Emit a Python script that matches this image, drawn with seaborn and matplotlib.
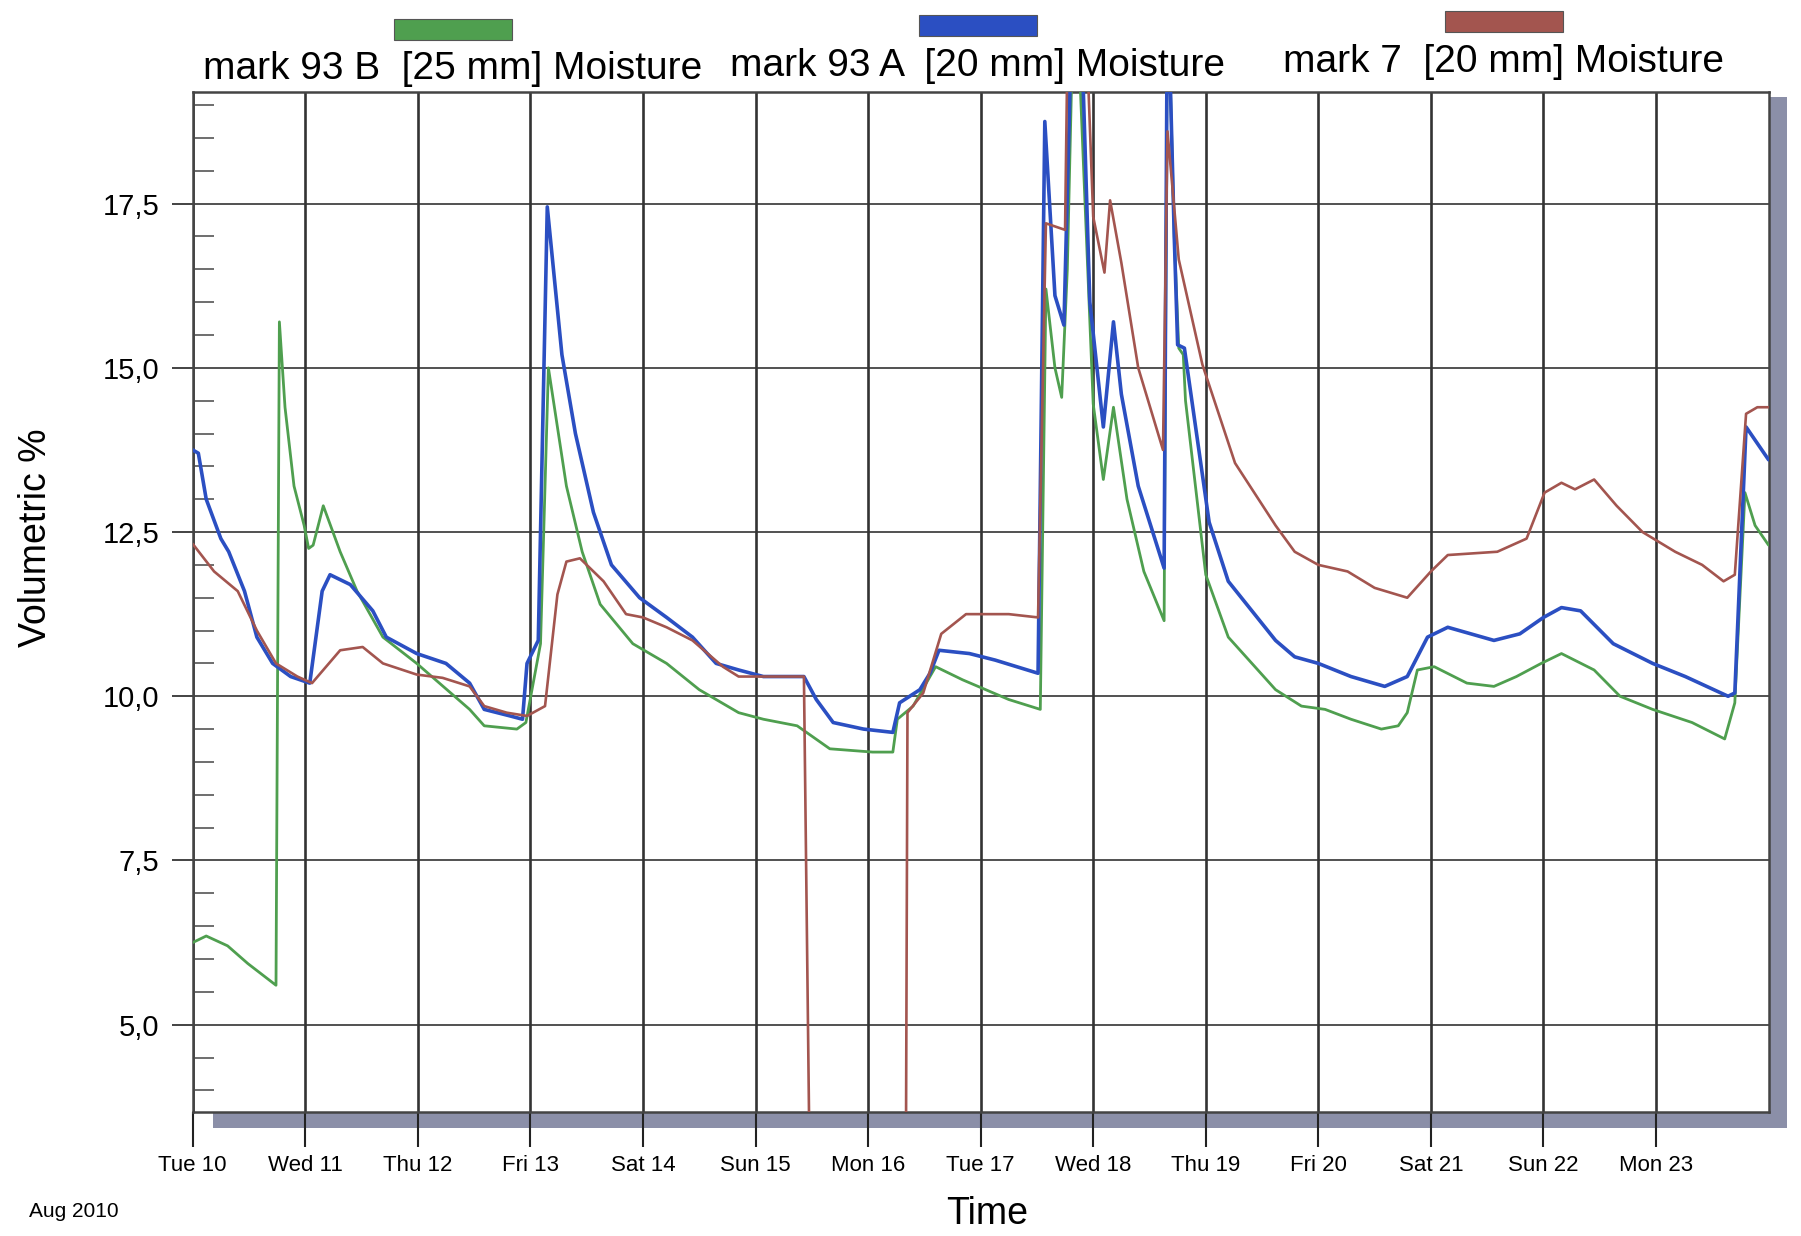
import matplotlib
matplotlib.use("Agg")
import numpy as np
import pandas as pd
import matplotlib.pyplot as plt
import seaborn as sns
from matplotlib.patches import Rectangle
from matplotlib.ticker import MultipleLocator, FuncFormatter

# days since Tue 10 Aug 2010 00:00; values > top of axis are clipped spikes
green_days = [0.0, 0.12, 0.31, 0.49, 0.74, 0.77, 0.82, 0.9, 0.99, 1.03, 1.07, 1.16, 1.31, 1.46,
              1.69, 1.99, 2.46, 2.59, 2.88, 2.96, 3.09, 3.16, 3.32, 3.46, 3.62, 3.91, 4.21, 4.5,
              4.85, 5.07, 5.37, 5.66, 6.04, 6.22, 6.26, 6.4, 6.6, 6.84, 7.25, 7.53, 7.58, 7.66,
              7.72, 7.77, 7.83, 7.88, 8.0, 8.09, 8.18, 8.3, 8.45, 8.63, 8.66, 8.72, 8.76, 8.8,
              8.82, 9.0, 9.2, 9.62, 9.85, 10.06, 10.29, 10.56, 10.71, 10.79, 10.88, 11.03, 11.32,
              11.56, 11.76, 11.98, 12.16, 12.45, 12.68, 12.97, 13.32, 13.61, 13.7, 13.79, 13.88, 14.0]
green_vals = [6.25, 6.35, 6.2, 5.93, 5.6, 15.7, 14.4, 13.2, 12.6, 12.25, 12.3, 12.9, 12.2, 11.6,
              10.9, 10.5, 9.8, 9.55, 9.5, 9.6, 10.8, 15.0, 13.2, 12.2, 11.4, 10.8, 10.5, 10.1,
              9.75, 9.65, 9.55, 9.2, 9.15, 9.15, 9.65, 9.85, 10.45, 10.25, 9.95, 9.8, 16.2, 15.0,
              14.55, 16.5, 21.0, 19.5, 14.45, 13.3, 14.4, 13.0, 11.9, 11.15, 21.0, 17.0, 15.3, 15.2,
              14.5, 11.85, 10.9, 10.1, 9.85, 9.8, 9.65, 9.5, 9.55, 9.75, 10.4, 10.45, 10.2,
              10.15, 10.3, 10.5, 10.65, 10.4, 10.0, 9.8, 9.6, 9.35, 9.9, 13.1, 12.6, 12.3]

blue_days = [0.0, 0.05, 0.12, 0.25, 0.32, 0.46, 0.57, 0.71, 0.87, 1.04, 1.15, 1.22, 1.4, 1.6,
             1.72, 1.99, 2.25, 2.46, 2.59, 2.82, 2.93, 2.97, 3.07, 3.15, 3.28, 3.4, 3.56, 3.72,
             3.97, 4.21, 4.44, 4.65, 4.85, 5.07, 5.43, 5.54, 5.69, 5.96, 6.22, 6.28, 6.46, 6.55,
             6.63, 6.9, 7.13, 7.51, 7.57, 7.66, 7.74, 7.82, 7.88, 7.97, 8.09, 8.18, 8.25, 8.4,
             8.63, 8.66, 8.72, 8.75, 8.81, 9.03, 9.2, 9.62, 9.79, 10.0, 10.29, 10.59, 10.79,
             10.97, 11.15, 11.56, 11.79, 12.0, 12.16, 12.33, 12.62, 12.97, 13.26, 13.64, 13.7,
             13.8, 13.88, 14.0]
blue_vals = [13.75, 13.7, 13.0, 12.4, 12.2, 11.6, 10.9, 10.5, 10.3, 10.2, 11.6, 11.85, 11.7, 11.3,
             10.9, 10.65, 10.5, 10.2, 9.8, 9.7, 9.65, 10.5, 10.85, 17.45, 15.2, 14.0, 12.8, 12.0,
             11.5, 11.2, 10.9, 10.5, 10.4, 10.3, 10.3, 9.95, 9.6, 9.5, 9.45, 9.9, 10.1, 10.35,
             10.7, 10.65, 10.55, 10.35, 18.75, 16.1, 15.65, 21.0, 21.0, 16.0, 14.1, 15.7, 14.6, 13.2,
             11.95, 21.0, 17.0, 15.35, 15.3, 12.65, 11.75, 10.85, 10.6, 10.5, 10.3, 10.15, 10.3,
             10.9, 11.05, 10.85, 10.95, 11.2, 11.35, 11.3, 10.8, 10.5, 10.3, 10.0, 10.05,
             14.1, 13.9, 13.6]

red_days = [0.0, 0.19, 0.4, 0.57, 0.74, 0.93, 1.06, 1.16, 1.31, 1.51, 1.69, 1.99, 2.22, 2.46,
            2.59, 2.79, 2.97, 3.13, 3.24, 3.32, 3.44, 3.65, 3.85, 4.0, 4.21, 4.44, 4.71, 4.85,
            5.07, 5.43, 5.5, 6.33, 6.35, 6.49, 6.65, 6.87, 7.25, 7.51, 7.58, 7.75, 7.78, 7.92,
            8.0, 8.1, 8.15, 8.25, 8.4, 8.62, 8.66, 8.76, 8.97, 9.26, 9.62, 9.79, 10.0, 10.26,
            10.5, 10.79, 11.0, 11.15, 11.59, 11.85, 12.01, 12.16, 12.28, 12.45, 12.65, 12.88,
            13.17, 13.41, 13.6, 13.7, 13.8, 13.9, 14.0]
red_vals = [12.32, 11.9, 11.6, 11.0, 10.5, 10.3, 10.2, 10.4, 10.7, 10.75, 10.5, 10.33, 10.28, 10.15,
            9.85, 9.75, 9.7, 9.85, 11.55, 12.05, 12.1, 11.75, 11.25, 11.2, 11.05, 10.85, 10.45, 10.3,
            10.3, 10.3, 0.0, 0.0, 9.75, 10.05, 10.95, 11.25, 11.25, 11.2, 17.2, 17.1, 21.0, 21.0,
            17.3, 16.45, 17.55, 16.6, 15.0, 13.75, 18.6, 16.65, 15.05, 13.55, 12.6, 12.2, 12.0, 11.9,
            11.65, 11.5, 11.9, 12.15, 12.2, 12.4, 13.1, 13.25, 13.15, 13.3, 12.9, 12.5,
            12.2, 12.0, 11.75, 11.85, 14.3, 14.4, 14.4]

series_names = ["mark 93 B  [25 mm] Moisture", "mark 93 A  [20 mm] Moisture",
                "mark 7  [20 mm] Moisture"]
series_colors = ["#4f9f4f", "#2b4fc2", "#a3554f"]
day_labels = ["Tue 10", "Wed 11", "Thu 12", "Fri 13", "Sat 14", "Sun 15", "Mon 16",
              "Tue 17", "Wed 18", "Thu 19", "Fri 20", "Sat 21", "Sun 22", "Mon 23"]

sns.set_style("white")
plt.rcParams["font.family"] = ["Liberation Sans", "DejaVu Sans"]
plt.rcParams["text.color"] = "black"
plt.rcParams["xtick.color"] = "#222222"
plt.rcParams["ytick.color"] = "#222222"

fig = plt.figure(figsize=(18.01, 12.36), dpi=100)
ax = fig.add_axes([0.107, 0.1003, 0.875, 0.8253])

data = [(green_days, green_vals), (blue_days, blue_vals), (red_days, red_vals)]
widths = [2.0, 2.6, 1.9]
for (d, v), name, col, lw in zip(data, series_names, series_colors, widths):
    df = pd.DataFrame({"day": d, "value": v})
    sns.lineplot(data=df, x="day", y="value", color=col, linewidth=lw, ax=ax, zorder=3)

ax.set_xlim(0, 14)
ax.set_ylim(3.67, 19.2)

ax.set_xticks(np.arange(len(day_labels)))
ax.set_xticklabels(day_labels, fontsize=16, color="black")
ax.yaxis.set_major_locator(MultipleLocator(2.5))
ax.yaxis.set_minor_locator(MultipleLocator(0.5))
ax.yaxis.set_major_formatter(FuncFormatter(lambda v, p: f"{v:.1f}".replace(".", ",") if v >= 5 else ""))
ax.tick_params(axis="x", bottom=True, direction="out", length=25, width=1.5, pad=6)
ax.tick_params(axis="y", which="major", left=True, direction="out", length=15, width=1.2,
               labelsize=21, labelcolor="black", pad=9)
ax.tick_params(axis="y", which="minor", left=True, direction="in", length=15, width=1.2,
               color="#555555")

ax.xaxis.grid(True, color="#333333", linewidth=1.9)
ax.yaxis.grid(True, color="#333333", linewidth=1.2)
for side in ["left", "top", "right", "bottom"]:
    ax.spines[side].set_visible(True)
    ax.spines[side].set_color("#444444")
    ax.spines[side].set_linewidth(1.8)

ax.set_xlabel("")
ax.set_ylabel("")
fig.text(0.02, 0.565, "Volumetric %", rotation=90, fontsize=27, ha="center", va="center")
fig.text(0.548, 0.018, "Time", fontsize=27, ha="center", va="center")
fig.text(0.016, 0.02, "Aug 2010", fontsize=15, ha="left", va="center")

# grey drop shadow under and right of the plot
shadow = "#8b8fa8"
fig.patches.append(Rectangle((0.118, 0.0874), 0.874, 0.0129, transform=fig.transFigure,
                             facecolor=shadow, edgecolor="none", zorder=-1))
fig.patches.append(Rectangle((0.982, 0.0874), 0.010, 0.834, transform=fig.transFigure,
                             facecolor=shadow, edgecolor="none", zorder=-1))

# legend: colour swatch above each label
legend_x = [0.2515, 0.543, 0.835]
legend_y = [0.944, 0.947, 0.950]
for name, col, cx, cy in zip(series_names, series_colors, legend_x, legend_y):
    fig.text(cx, cy, name, fontsize=28, ha="center", va="center")
    fig.patches.append(Rectangle((cx - 0.0328, cy + 0.024), 0.0655, 0.017,
                                 transform=fig.transFigure, facecolor=col,
                                 edgecolor="#555555", linewidth=0.8))

fig.savefig("out.png", dpi=100, facecolor="white")
